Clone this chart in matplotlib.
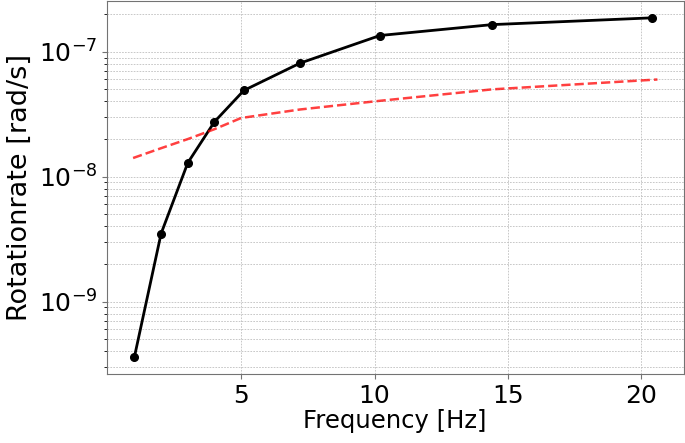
import numpy as np
import matplotlib
matplotlib.use("Agg")
import matplotlib.pyplot as plt
from matplotlib.ticker import NullFormatter

# measured rotation rate vs frequency
freq = [1.0, 2.0, 3.0, 4.0, 5.1, 7.2, 10.2, 14.4, 20.4]
rate = [3.6e-10, 3.5e-9, 1.29e-8, 2.75e-8, 4.9e-8, 8.1e-8, 1.35e-7, 1.65e-7, 1.87e-7]

# noise floor / reference curve
ref_freq = [0.95, 2.0, 3.0, 4.0, 5.0, 7.2, 10.2, 14.4, 20.6]
ref_rate = [1.41e-8, 1.69e-8, 2.0e-8, 2.4e-8, 2.95e-8, 3.45e-8, 4.05e-8, 5.0e-8, 6.0e-8]

fig = plt.figure(figsize=(6.85, 4.43), dpi=100)
ax = fig.add_axes([0.156, 0.156, 0.842, 0.842])

ax.semilogy(freq, rate, 'k-o', lw=2, markersize=5.5)
ax.semilogy(ref_freq, ref_rate, 'r--', lw=1.8, alpha=0.75)

ax.grid(True, which='both', ls=(0, (2, 1.5)), lw=0.6, color='0.75')
ax.set_xticks([5, 10, 15, 20])
ax.yaxis.set_minor_formatter(NullFormatter())
ax.tick_params(labelsize=18, color='0.45')
for s in ax.spines.values():
    s.set_color('0.45')
ax.set_xlabel('Frequency [Hz]', fontsize=17.5, labelpad=1)
ax.set_ylabel('Rotationrate [rad/s]', fontsize=19.5, labelpad=4)

plt.savefig('out.png', dpi=100)
